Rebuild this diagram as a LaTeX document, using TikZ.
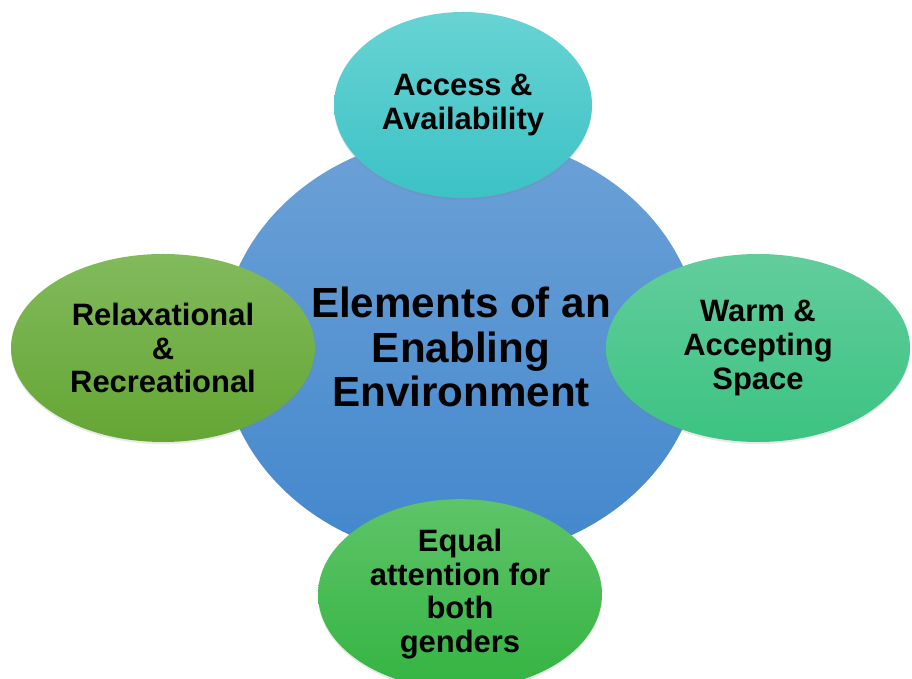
\documentclass[tikz,border=0pt]{standalone}
\usepackage{fontspec}
\setmainfont{Liberation Sans}
\usetikzlibrary{shapes.geometric,shadows}
\definecolor{hubtop}{RGB}{108,161,215}
\definecolor{hubbot}{RGB}{66,135,204}
\definecolor{tealtop}{RGB}{104,211,211}
\definecolor{tealbot}{RGB}{60,194,198}
\definecolor{olivetop}{RGB}{130,186,92}
\definecolor{olivebot}{RGB}{100,166,52}
\definecolor{minttop}{RGB}{98,205,156}
\definecolor{mintbot}{RGB}{60,195,130}
\definecolor{leaftop}{RGB}{94,196,104}
\definecolor{leafbot}{RGB}{52,180,66}
\tikzset{
  hub/.style={ellipse,inner sep=0pt,minimum width=12cm,minimum height=10.6cm,
    top color=hubtop,bottom color=hubbot,draw=none},
  petal/.style 2 args={ellipse,inner sep=0pt,align=center,draw=none,
    top color=#1,bottom color=#2,
    drop shadow={shadow xshift=0pt,shadow yshift=-1.5pt,opacity=0.18},
    font=\fontsize{22}{24}\selectfont\bfseries},
  hublabel/.style={align=center,font=\fontsize{30}{31.5}\selectfont\bfseries},
}

\begin{document}
\begin{tikzpicture}
    \useasboundingbox (0,0) rectangle (22.8,16.975);

    \node[hub] (hub) at (11.525,8.3) {};

    \node[petal={tealtop}{tealbot},minimum width=6.45cm,minimum height=4.65cm]
      (access) at (11.575,14.35) {Access \&\\Availability};
    \node[petal={olivetop}{olivebot},minimum width=7.6cm,minimum height=4.7cm]
      (relax) at (4.075,8.275) {Relaxational\\\&\\Recreational};
    \node[petal={minttop}{mintbot},minimum width=7.6cm,minimum height=4.7cm]
      (warm) at (18.95,8.275) {Warm \&\\Accepting\\Space};
    \node[petal={leaftop}{leafbot},minimum width=7.1cm,minimum height=4.75cm]
      (equal) at (11.5,2.12) {Equal\\attention for\\both\\genders};

    % title sits on top of the petals
    \node[hublabel] (title) at (hub.center) {Elements of an\\Enabling\\Environment};
\end{tikzpicture}
\end{document}
